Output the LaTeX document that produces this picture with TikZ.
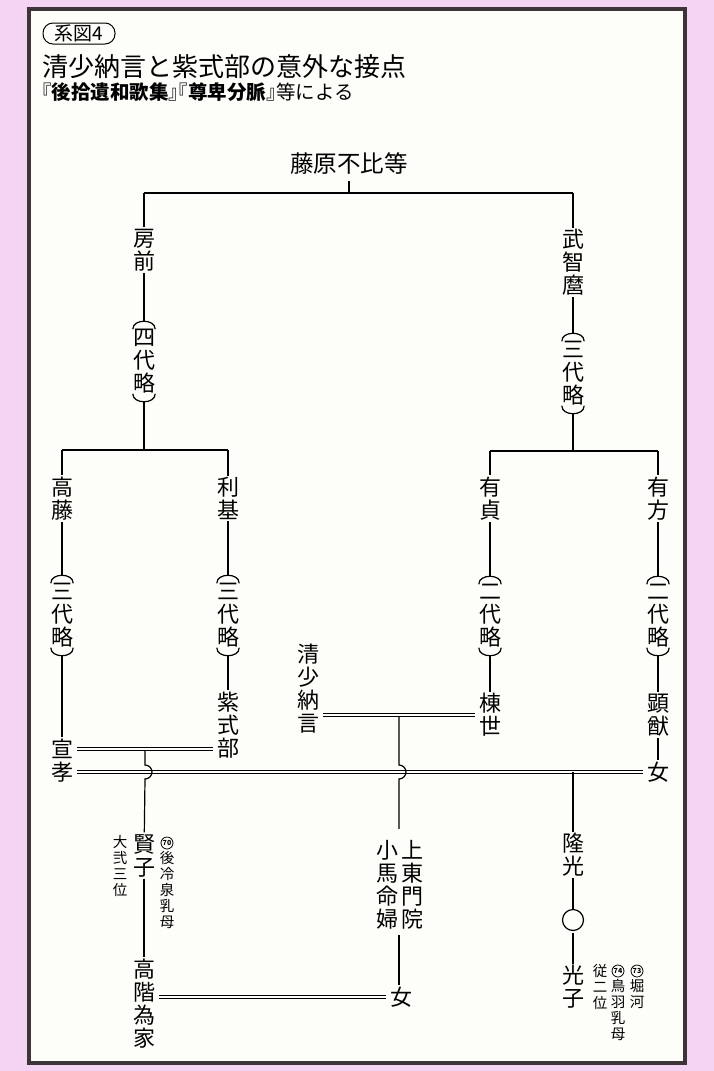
\documentclass[tikz,border=0pt]{standalone}
\usepackage{fontspec}
\setmainfont{Noto Sans CJK JP}
\newfontfamily\halfjp[RawFeature=+halt]{Noto Sans CJK JP}
\usepackage{tikz}
\usetikzlibrary{calc,positioning}
\definecolor{bgpink}{RGB}{245,211,242}
\definecolor{framegray}{RGB}{60,52,54}
\definecolor{paper}{RGB}{253,253,250}
\tikzstyle{tate}  = [align=center, inner xsep=0pt, inner ysep=1.5pt, font=\fontsize{22}{23}\selectfont]
\tikzstyle{ryaku} = [tate, inner ysep=8pt]
\tikzstyle{chu}   = [align=center, inner sep=0pt, font=\fontsize{14.5}{16}\selectfont]
\tikzstyle{maru}  = [circle, draw, line width=0.8pt, inner sep=0pt, minimum size=12pt, font=\fontsize{7}{7}\selectfont\bfseries]
\tikzstyle{ke}    = [line width=1.2pt]
\tikzstyle{kon}   = [double=paper, double distance=2.6pt, line width=1pt, shorten <=4pt, shorten >=4pt]

\begin{document}
\begin{tikzpicture}[x=1pt, y=-1pt]
\useasboundingbox (0,0) rectangle (714,1071);
\fill[bgpink] (0,0) rectangle (714,1071);
\draw[framegray, line width=4pt, fill=paper] (29,9) rectangle (685,1063);

% heading
\node[draw, line width=1pt, rounded corners=10pt, minimum width=72pt, minimum height=21pt, inner sep=0pt, font=\fontsize{19}{19}\selectfont] (keizu) at (79,33.5) {系図4};
\node[anchor=west, inner sep=0pt, font=\fontsize{26}{26}\selectfont] (title) at (42,66.5) {清少納言と紫式部の意外な接点};
\node[anchor=west, inner sep=0pt, font=\halfjp\fontsize{19.5}{20}\selectfont] (source) at (42,92.5) {『\textbf{後拾遺和歌集}』『\textbf{尊卑分脈}』等による};

% people
\node[inner xsep=0pt, inner ysep=6pt, font=\fontsize{23.5}{24}\selectfont] (fuhito) at (349,164) {藤原不比等};
\coordinate (top) at (349,193);
\node[tate]  (fusasaki)  at (144,250)   {房\\前};
\node[ryaku] (r4)        at (144,361.5) {四\\代\\略};
\coordinate (bl) at (144,450);
\node[tate]  (muchimaro) at (573,262.5) {武\\智\\麿};
\node[ryaku] (r3a)       at (573,373.5) {三\\代\\略};
\coordinate (br) at (573,451);

\node[tate]  (takafuji)  at (62,498.5)  {高\\藤};
\node[tate]  (toshimoto) at (228,498.5) {利\\基};
\node[tate]  (aritada)   at (490,498.5) {有\\貞};
\node[tate]  (arikata)   at (658,498.5) {有\\方};
\node[ryaku] (r3b)       at (62,615.5)  {三\\代\\略};
\node[ryaku] (r3c)       at (228,615.5) {三\\代\\略};
\node[ryaku] (r2a)       at (490,616)   {二\\代\\略};
\node[ryaku] (r2b)       at (658,616)   {二\\代\\略};

\node[tate]  (murasaki)  at (228,725)   {紫\\式\\部};
\node[tate]  (sei)       at (308,689)   {清\\少\\納\\言};
\node[tate]  (munetoyo)  at (490,715)   {棟\\世};
\node[tate]  (akimasa)   at (658,715)   {顕\\猷};
\node[tate]  (nobutaka)  at (62,760.5)  {宣\\孝};
\node[tate]  (onna1)     at (658,772)   {女};

\node[tate]  (kenshi)    at (144,855.5) {賢\\子};
\node[tate]  (takashina) at (144,1003.5) {高\\階\\為\\家};
\node[tate]  (joto)      at (412,885)   {上\\東\\門\\院};
\node[tate]  (koma)      at (387,885)   {小\\馬\\命\\婦};
\node[tate]  (onna2)     at (401,997)   {女};
\node[tate]  (takamitsu) at (573,855)   {隆\\光};
\node[circle, draw, line width=1.2pt, minimum size=21pt, inner sep=0pt] (maru) at (573,920) {};
\node[tate]  (mitsuko)   at (573,987)   {光\\子};

% notes
\node[chu] (daini) at (120,866) {大\\弐\\三\\位};
\node[maru] (n70) at (167,843) {70};
\node[chu, below=1.5pt of n70] (goreizei) {後\\冷\\泉\\乳\\母};
\node[chu] (jusanmi) at (600,987) {従\\二\\位};
\node[maru] (n74) at (618,971) {74};
\node[chu, below=1.5pt of n74] (toba) {鳥\\羽\\乳\\母};
\node[maru] (n73) at (637,971) {73};
\node[chu, below=1.5pt of n73] (horikawa) {堀\\河};

% marriages
\draw[kon] ([yshift=11.5pt]nobutaka.east) -- coordinate[midway] (k1) ([yshift=11.5pt]nobutaka.east -| murasaki.west);
\draw[kon] (onna1.west -| nobutaka.east) -- (onna1.west);
\draw[kon] (munetoyo.west -| sei.east) -- coordinate[midway] (k2) (munetoyo.west);
\draw[kon] (onna2.west -| takashina.east) -- (onna2.west);

% lines of descent
\draw[ke] (fuhito) -- (top);
\draw[ke] (fusasaki |- top) -- (muchimaro |- top);
\draw[ke] (fusasaki |- top) -- (fusasaki) -- (r4) -- (bl);
\draw[ke] (muchimaro |- top) -- (muchimaro) -- (r3a) -- (br);
\draw[ke] (takafuji |- bl) -- (toshimoto |- bl);
\draw[ke] (aritada |- br) -- (arikata |- br);
\draw[ke] (takafuji |- bl) -- (takafuji) -- (r3b) -- (nobutaka);
\draw[ke] (toshimoto |- bl) -- (toshimoto) -- (r3c) -- (murasaki);
\draw[ke] (aritada |- br) -- (aritada) -- (r2a) -- (munetoyo);
\draw[ke] (arikata |- br) -- (arikata) -- (r2b) -- (akimasa) -- (onna1);

\foreach \r in {r4,r3a,r3b,r3c,r2a,r2b}{
  \draw[ke] ([yshift=-8pt]\r.north west) .. controls ([yshift=2.7pt]\r.north west) and ([yshift=2.7pt]\r.north east) .. ([yshift=-8pt]\r.north east);
  \draw[ke] ([yshift=8pt]\r.south west) .. controls ([yshift=-2.7pt]\r.south west) and ([yshift=-2.7pt]\r.south east) .. ([yshift=8pt]\r.south east);
}

\draw[ke, shorten <=2.2pt] (k1) -- ($(k1 |- onna1)+(0,-7)$) arc[start angle=90, end angle=-90, radius=7pt] -- (kenshi);
\draw[ke] (kenshi) -- (takashina);
\draw[ke, shorten <=2.2pt] (k2) -- ($(k2 |- onna1)+(0,-7)$) arc[start angle=90, end angle=-90, radius=7pt] -- ([yshift=10pt]k2 |- joto.north);
\draw[ke] ([yshift=-4pt]k2 |- joto.south) -- (k2 |- onna2.north);
\draw[ke, shorten <=2.2pt] (takamitsu |- onna1) -- (takamitsu) -- (maru) -- (mitsuko);
\end{tikzpicture}
\end{document}
